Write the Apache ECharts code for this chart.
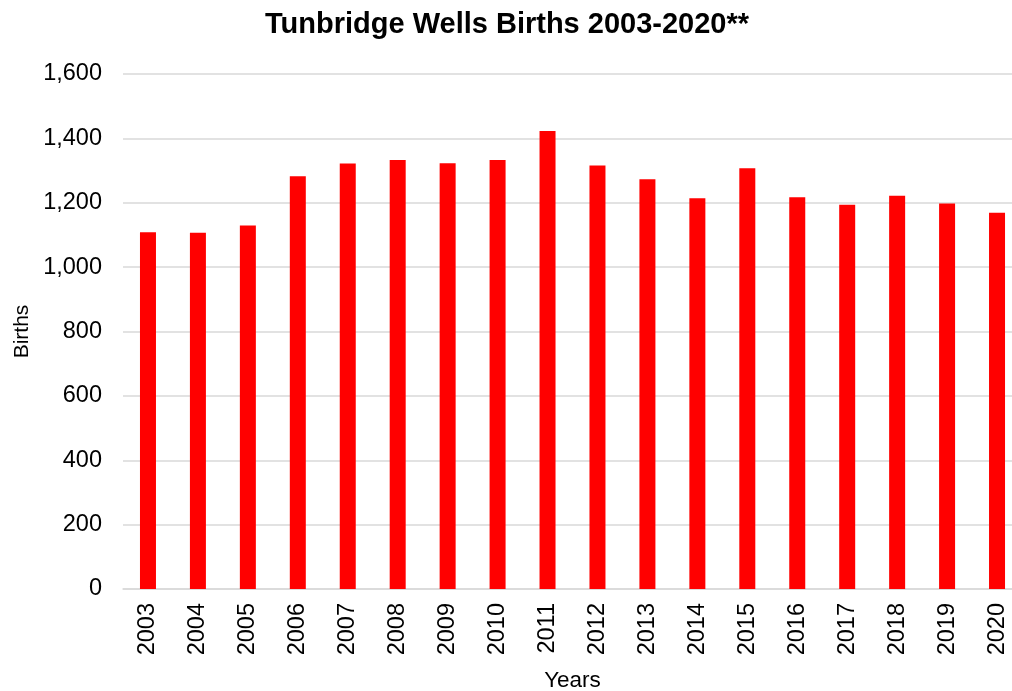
<!DOCTYPE html>
<html>
<head>
<meta charset="utf-8">
<script src="https://cdn.jsdelivr.net/npm/echarts@6/dist/echarts.min.js"></script>
<style>html,body{margin:0;padding:0;background:#fff;overflow:hidden;}#c{width:1030px;height:691px;}</style>
</head>
<body>
<div id="c"></div>
<script>
const years = ['2003','2004','2005','2006','2007','2008','2009','2010','2011','2012','2013','2014','2015','2016','2017','2018','2019','2020'];
const births = [1108,1107,1129,1282,1322,1333,1323,1333,1423,1316,1273,1214,1307,1217,1194,1222,1198,1169];
const yTicks = [0,200,400,600,800,1000,1200,1400,1600];

const chart = echarts.init(document.getElementById('c'));
const font = 'Liberation Sans, Arial, sans-serif';
chart.setOption({
  animation: false,
  title: {
    text: 'Tunbridge Wells Births 2003-2020**',
    left: 260, top: 5,
    textStyle: {fontFamily: font, fontSize: 29, fontWeight: 'bold', color: '#000'}
  },
  grid: {left: 123, top: 74, width: 899, height: 515, containLabel: false, outerBoundsMode: 'none'},
  xAxis: {
    type: 'category', data: years,
    name: 'Years', nameLocation: 'middle', nameGap: 80,
    nameTextStyle: {fontFamily: font, fontSize: 22.5, color: '#000'},
    axisLine: {lineStyle: {color: '#d9d9d9', width: 1.5}},
    axisTick: {show: false},
    axisLabel: {rotate: 90, fontFamily: font, fontSize: 23.5, color: '#000', margin: 14, interval: 0}
  },
  yAxis: {
    type: 'value', min: yTicks[0], max: yTicks[yTicks.length-1], interval: 200,
    name: 'Births', nameLocation: 'middle', nameGap: 90, nameRotate: 90,
    nameTextStyle: {fontFamily: font, fontSize: 21, color: '#000'},
    axisLine: {show: false}, axisTick: {show: false},
    axisLabel: {fontFamily: font, fontSize: 23.5, color: '#000', margin: 21,
      formatter: v => v.toLocaleString('en-US')},
    splitLine: {lineStyle: {color: '#d9d9d9', width: 1.5}}
  },
  series: [{
    type: 'bar', data: births, barWidth: 16,
    itemStyle: {color: '#ff0000'}
  }]
});
</script>
</body>
</html>
